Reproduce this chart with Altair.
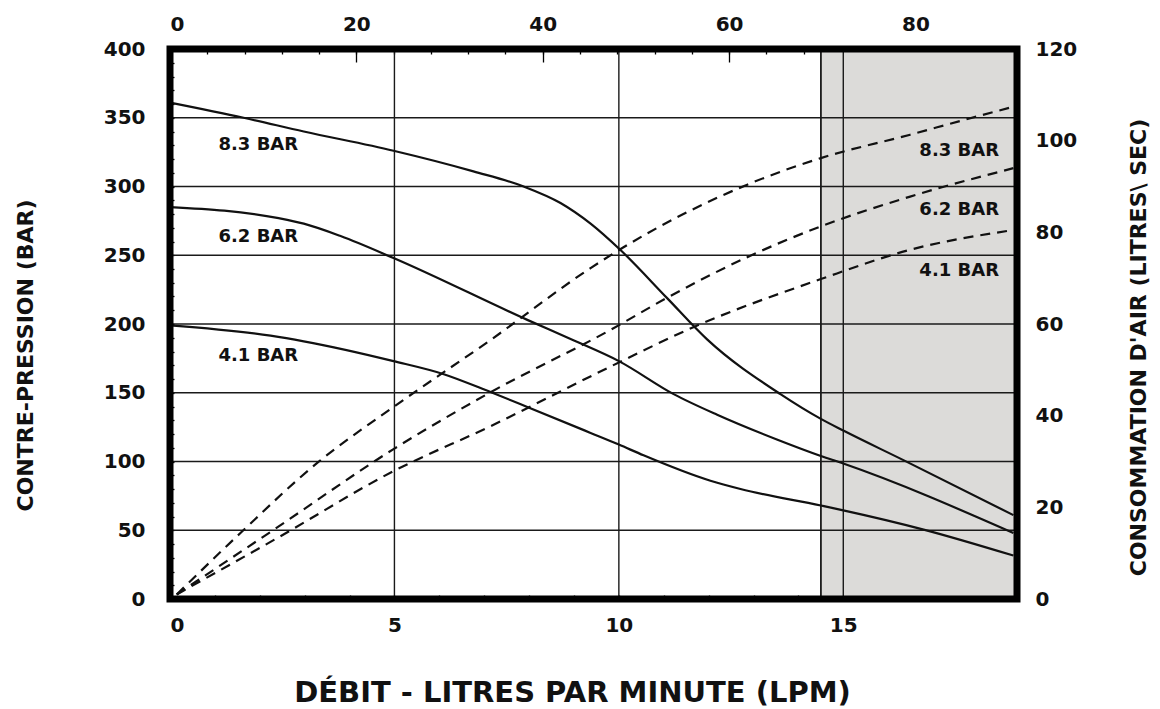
import altair as alt
import pandas as pd

# ---------------- data ----------------
# Back-pressure curves (left axis, BAR) vs flow (LPM)
lpm_p83 = [0, 1.64, 2.98, 4.98, 6.76, 7.88, 8.7, 9.37, 10.03, 11.07, 11.96, 13.6, 14.5, 15.0, 16.34, 18.79]
bar_p83 = [361, 350, 340, 326, 311, 300, 288, 273, 254, 219, 189, 149, 131, 122.5, 101, 61]

lpm_p62 = [0, 2.42, 2.98, 3.8, 4.98, 7.96, 9.0, 10.0, 11.22, 12.19, 13.52, 14.5, 15.0, 18.79]
bar_p62 = [285, 277, 273, 264, 248, 203, 188, 173, 149, 134, 116, 104, 98.5, 48]

lpm_p41 = [0, 2.24, 2.98, 4.98, 6.1, 7.14, 7.96, 9.37, 10.0, 10.55, 12.04, 12.71, 14.5, 15.0, 16.79, 18.79]
bar_p41 = [199, 191.5, 187.4, 173, 163.5, 150.5, 139.7, 120.8, 112.3, 104.5, 86, 80, 68, 64.5, 50.5, 31.6]

# Air consumption curves (right axis, litres/sec) vs flow (LPM)
lpm_a83 = [0.15, 1.57, 3.28, 4.98, 7.14, 9.37, 10.03, 12.86, 14.5, 16.49, 17.68, 18.79]
air_a83 = [1, 14.4, 29.7, 41.9, 56.5, 72.2, 76.3, 90.4, 96.2, 101.3, 104.5, 107.4]

lpm_a62 = [0.15, 2.31, 4.98, 7.14, 9.81, 11.07, 12.93, 14.5, 16.49, 18.79]
air_a62 = [1, 15.1, 32.7, 45.1, 58.7, 65.7, 74.9, 81.3, 87.8, 94]

lpm_a41 = [0.15, 2.39, 4.98, 7.14, 9.81, 11.66, 14.5, 16.49, 18.79]
air_a41 = [1, 13.3, 27.9, 37.7, 50.7, 59.3, 69.8, 76.2, 80.5]

series_names = ["8.3 BAR", "6.2 BAR", "4.1 BAR"]

# shaded zone and grid values
shade_from = [14.5]
shade_to = [18.87]
grid_lpm = [5, 10, 15, 14.5]
grid_bar = [50, 100, 150, 200, 250, 300, 350]

# axis ticks / labels
bottom_labels = [0, 5, 10, 15]
bottom_minor = list(range(0, 19))
left_labels = [0, 50, 100, 150, 200, 250, 300, 350, 400]
left_minor = list(range(0, 401, 10))
top_labels = [0, 20, 40, 60, 80]
top_minor = list(range(0, 91, 4))
right_labels = [0, 20, 40, 60, 80, 100, 120]
right_minor = list(range(0, 121, 4))

# curve label anchors (data units)
lab_left_lpm = [1.08, 1.08, 1.08]
lab_left_bar = [330.5, 263, 177]
lab_right_lpm = [18.47, 18.47, 18.47]
lab_right_air = [97.8, 84.9, 71.5]

# ---------------- build tables ----------------
X_DOM = [0, 18.87]
XT_DOM = [0, 90.9]
YL_DOM = [0, 400]
YR_DOM = [0, 120]
W, H = 847, 550
FONT = "DejaVu Sans"

solid = pd.concat([
    pd.DataFrame({"s": n, "lpm": x, "bar": y, "o": range(len(x))})
    for n, x, y in zip(series_names, [lpm_p83, lpm_p62, lpm_p41], [bar_p83, bar_p62, bar_p41])
])
dashed = pd.concat([
    pd.DataFrame({"s": n, "lpm": x, "air": y, "o": range(len(x))})
    for n, x, y in zip(series_names, [lpm_a83, lpm_a62, lpm_a41], [air_a83, air_a62, air_a41])
])
shade = pd.DataFrame({"a": shade_from, "b": shade_to, "y0": [YL_DOM[0]], "y1": [YL_DOM[1]]})
gx = pd.DataFrame({"v": grid_lpm})
gy = pd.DataFrame({"v": grid_bar})
labL = pd.DataFrame({"t": series_names, "lpm": lab_left_lpm, "bar": lab_left_bar})
labR = pd.DataFrame({"t": series_names, "lpm": lab_right_lpm, "air": lab_right_air})
one = pd.DataFrame({"k": [0]})

def sx():
    return alt.Scale(domain=X_DOM, nice=False, zero=False)

def sxt():
    return alt.Scale(domain=XT_DOM, nice=False, zero=False)

def syl():
    return alt.Scale(domain=YL_DOM, nice=False, zero=False)

def syr():
    return alt.Scale(domain=YR_DOM, nice=False, zero=False)

def tick_axis(orient, values, size):
    return alt.Axis(orient=orient, values=values, labels=False, domain=False, grid=False,
                    ticks=True, tickSize=size, offset=-size, tickColor="black",
                    tickWidth=1.3, title=None)

def label_axis(orient, values, pad, **kw):
    return alt.Axis(orient=orient, values=values, ticks=False, domain=False, grid=False,
                    labelPadding=pad, labelFont=FONT, labelFontWeight="bold",
                    labelFontSize=20, labelColor="#111", **kw)

# shaded zone + bottom & left labels/titles
layer_shade = alt.Chart(shade).mark_rect(fill="#dcdbd9", stroke="black", strokeWidth=1.3).encode(
    x=alt.X("a:Q", scale=sx(), axis=label_axis(
        "bottom", bottom_labels, 16, format="d",
        title="DÉBIT - LITRES PAR MINUTE (LPM)", titleFont=FONT, titleFontWeight="bold",
        titleFontSize=29, titleColor="#111", titleX=402, titleY=102,
        titleAlign="center", titleBaseline="alphabetic")),
    x2="b:Q",
    y=alt.Y("y0:Q", scale=syl(), axis=label_axis(
        "left", left_labels, 25, format="d",
        title="CONTRE-PRESSION  (BAR)", titleFont=FONT, titleFontWeight="bold",
        titleFontSize=22, titleColor="#111", titleAngle=270, titleX=-145, titleY=306,
        titleAlign="center", titleBaseline="middle")),
    y2="y1:Q",
)

# vertical gridlines + bottom inward ticks
layer_gx = alt.Chart(gx).mark_rule(color="#1a1a1a", strokeWidth=1.4).encode(
    x=alt.X("v:Q", scale=sx(), axis=tick_axis("bottom", bottom_minor, 4)),
)
# horizontal gridlines + left inward ticks
layer_gy = alt.Chart(gy).mark_rule(color="#1a1a1a", strokeWidth=1.4).encode(
    y=alt.Y("v:Q", scale=syl(), axis=tick_axis("left", left_minor, 4)),
)

layer_solid = alt.Chart(solid).mark_line(color="#111", strokeWidth=2.2, interpolate="monotone").encode(
    x=alt.X("lpm:Q", scale=sx(), axis=None),
    y=alt.Y("bar:Q", scale=syl(), axis=None),
    detail="s:N",
    order="o:Q",
)

layer_dashed = alt.Chart(dashed).mark_line(color="#111", strokeWidth=2.2, strokeDash=[10, 7],
                                           interpolate="monotone").encode(
    x=alt.X("lpm:Q", scale=sx(), axis=None),
    y=alt.Y("air:Q", scale=syr(), axis=label_axis(
        "right", right_labels, 18, format="d",
        title="CONSOMMATION D'AIR (LITRES\\ SEC)", titleFont=FONT, titleFontWeight="bold",
        titleFontSize=22, titleColor="#111", titleAngle=270, titleX=121, titleY=298,
        titleAlign="center", titleBaseline="middle")),
    detail="s:N",
    order="o:Q",
)

# top axis labels (invisible carrier marks)
layer_top = alt.Chart(pd.DataFrame({"v": top_labels})).mark_point(opacity=0).encode(
    x=alt.X("v:Q", scale=sxt(), axis=label_axis("top", top_labels, 15, format="d", title=None)),
)
layer_top_major = alt.Chart(pd.DataFrame({"v": top_labels})).mark_point(opacity=0).encode(
    x=alt.X("v:Q", scale=sxt(), axis=tick_axis("top", top_labels[1:], 13)),
)
layer_top_minor = alt.Chart(pd.DataFrame({"v": top_minor})).mark_point(opacity=0).encode(
    x=alt.X("v:Q", scale=sxt(), axis=tick_axis("top", top_minor, 5)),
)
layer_right_major = alt.Chart(pd.DataFrame({"v": right_labels})).mark_point(opacity=0).encode(
    y=alt.Y("v:Q", scale=syr(), axis=tick_axis("right", right_labels[1:-1], 13)),
)
layer_right_minor = alt.Chart(pd.DataFrame({"v": right_minor})).mark_point(opacity=0).encode(
    y=alt.Y("v:Q", scale=syr(), axis=tick_axis("right", right_minor, 4)),
)

layer_labL = alt.Chart(labL).mark_text(font=FONT, fontWeight="bold", fontSize=18, align="left",
                                       baseline="middle", color="#111").encode(
    x=alt.X("lpm:Q", scale=sx(), axis=None),
    y=alt.Y("bar:Q", scale=syl(), axis=None),
    text="t:N",
)
layer_labR = alt.Chart(labR).mark_text(font=FONT, fontWeight="bold", fontSize=18, align="right",
                                       baseline="middle", color="#111").encode(
    x=alt.X("lpm:Q", scale=sx(), axis=None),
    y=alt.Y("air:Q", scale=syr(), axis=None),
    text="t:N",
)

layer_frame = alt.Chart(one).mark_rect(fillOpacity=0, stroke="black", strokeWidth=7).encode(
    x=alt.value(0), x2=alt.value("width"), y=alt.value(0), y2=alt.value("height"),
)

chart = alt.layer(
    layer_shade, layer_gx, layer_gy, layer_solid, layer_dashed,
    layer_top, layer_top_major, layer_top_minor, layer_right_major, layer_right_minor,
    layer_labL, layer_labR, layer_frame,
).resolve_scale(x="independent", y="independent").resolve_axis(
    x="independent", y="independent"
).properties(
    width=W, height=H,
    autosize=alt.AutoSizeParams(type="none"),
    padding={"left": 162, "top": 41, "right": 135, "bottom": 108},
    background="white",
).configure_view(stroke=None)

chart.save("out.html", embed_options={"renderer": "svg", "actions": False})
